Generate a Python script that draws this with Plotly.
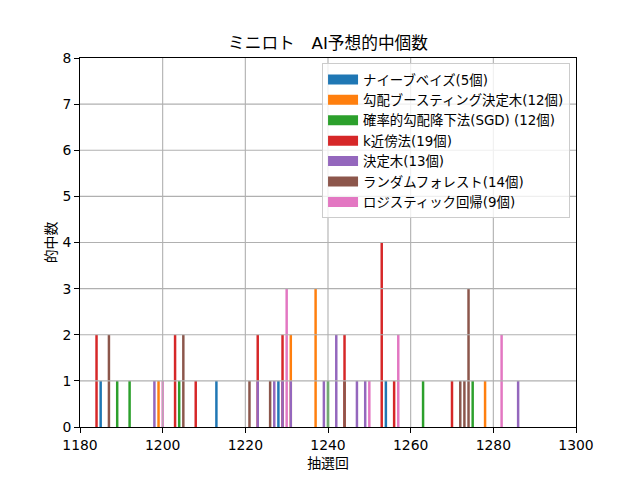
import plotly.graph_objects as go

# ---- data ----
model_names = [
    "ナイーブベイズ(5個)",
    "勾配ブースティング決定木(12個)",
    "確率的勾配降下法(SGD) (12個)",
    "k近傍法(19個)",
    "決定木(13個)",
    "ランダムフォレスト(14個)",
    "ロジスティック回帰(9個)",
]
colors = ["#1f77b4", "#ff7f0e", "#2ca02c", "#d62728", "#9467bd", "#8c564b", "#e377c2"]

nb_draws = [1185, 1213, 1228, 1254]
nb_hits = [1, 1, 1, 1]
gb_draws = [1199, 1231, 1237, 1278]
gb_hits = [1, 2, 3, 1]
sgd_draws = [1189, 1192, 1204, 1240, 1263, 1275]
sgd_hits = [1, 1, 1, 1, 1, 1]
knn_draws = [1184, 1203, 1208, 1223, 1229, 1244, 1253, 1256, 1270]
knn_hits = [2, 2, 1, 2, 2, 2, 4, 1, 1]
dt_draws = [1198, 1223, 1227, 1229, 1231, 1239, 1242, 1247, 1249, 1286]
dt_hits = [1, 1, 1, 1, 1, 1, 2, 1, 1, 1]
rf_draws = [1187, 1205, 1221, 1226, 1244, 1272, 1273, 1274]
rf_hits = [2, 2, 1, 1, 1, 1, 1, 3]
lr_draws = [1200, 1230, 1250, 1257, 1282]
lr_hits = [1, 3, 1, 2, 2]

series_draws = [nb_draws, gb_draws, sgd_draws, knn_draws, dt_draws, rf_draws, lr_draws]
series_hits = [nb_hits, gb_hits, sgd_hits, knn_hits, dt_hits, rf_hits, lr_hits]

x_ticks = [1180, 1200, 1220, 1240, 1260, 1280, 1300]
y_ticks = [0, 1, 2, 3, 4, 5, 6, 7, 8]

title_text = "ミニロト　AI予想的中個数"
x_label = "抽選回"
y_label = "的中数"

FONT = "DejaVu Sans, Noto Sans CJK JP, sans-serif"

fig = go.Figure()
for name, col, xs, ys in zip(model_names, colors, series_draws, series_hits):
    fig.add_trace(go.Bar(x=xs, y=ys, width=0.6, marker=dict(color=col, line=dict(width=0)),
                         opacity=1, showlegend=False, name=name))
for name, col in zip(model_names, colors):
    fig.add_trace(go.Scatter(x=[None], y=[None], mode="lines", name=name, legendgroup=name,
                             line=dict(color=col, width=10)))

shapes = []
for xv in x_ticks[1:-1]:
    shapes.append(dict(type="line", xref="x", yref="paper", x0=xv, x1=xv, y0=0, y1=1,
                       line=dict(color="#b0b0b0", width=1.1), layer="above"))
for yv in y_ticks[1:-1]:
    shapes.append(dict(type="line", xref="paper", yref="y", x0=0, x1=1, y0=yv, y1=yv,
                       line=dict(color="#b0b0b0", width=1.1), layer="above"))

fig.update_layout(
    width=640, height=480, autosize=False,
    margin=dict(l=80, r=64, t=58, b=53),
    paper_bgcolor="white", plot_bgcolor="white",
    barmode="overlay",
    font=dict(family=FONT, size=13.9, color="black"),
    title=dict(text=title_text, x=0.5125, xanchor="center", y=1 - 43 / 480, yanchor="middle",
               font=dict(family=FONT, size=16.7, color="black")),
    shapes=shapes,
    legend=dict(x=0.988, xanchor="right", y=0.986, yanchor="top",
                bgcolor="rgba(255,255,255,0.8)", bordercolor="#cccccc", borderwidth=1,
                tracegroupgap=0, font=dict(family=FONT, size=13.4, color="black")),
)
fig.update_xaxes(range=[1180, 1300], tickvals=x_ticks, ticks="outside", ticklen=5, tickwidth=1,
                 tickcolor="black", showgrid=False, zeroline=False, showline=True, mirror=True,
                 linecolor="black", linewidth=1,
                 title=dict(text=x_label, standoff=6, font=dict(size=13.9)))
fig.update_yaxes(range=[0, 8], tickvals=y_ticks, ticks="outside", ticklen=5, tickwidth=1,
                 tickcolor="black", showgrid=False, zeroline=False, showline=True, mirror=True,
                 linecolor="black", linewidth=1,
                 title=dict(text=y_label, standoff=2, font=dict(size=13.9)))

fig.write_html("out.html")
